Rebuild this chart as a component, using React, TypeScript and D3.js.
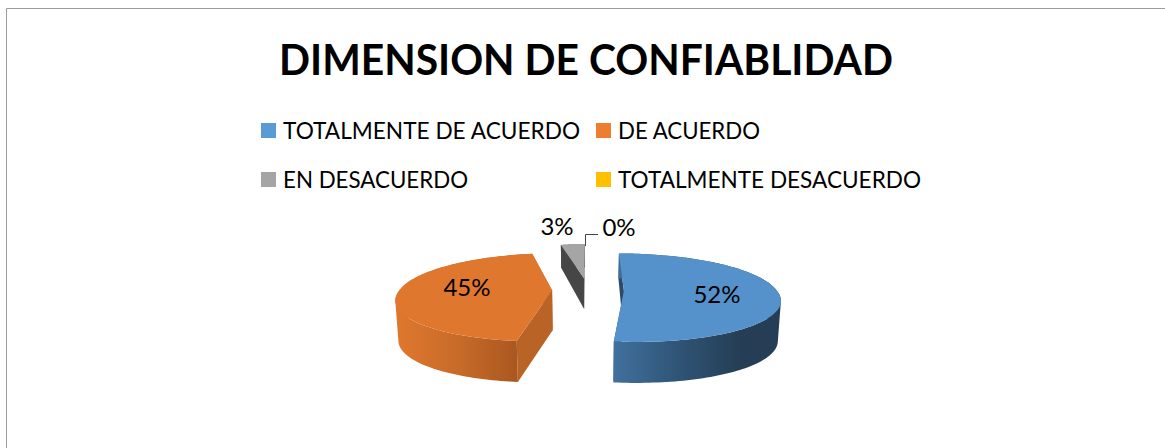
import React from "react";
import * as d3 from "d3";

const categories = ["TOTALMENTE DE ACUERDO", "DE ACUERDO", "EN DESACUERDO", "TOTALMENTE DESACUERDO"];
const values = [52, 45, 3, 0];
const legendColors = ["#5b9bd5", "#ed7d31", "#a5a5a5", "#ffc000"];
const topColors = ["#5592cb", "#e0772e", "#a5a5a5", "#ffc000"];
const faceColors = ["#2b4a68", "#b96426", "#464646", "#b08600"];
const legendWidths = [297, 142, 185, 303];
const title = "DIMENSION DE CONFIABLIDAD";

const W = 1165, H = 448;
const cx = 588, cy = 290, R = 152.5, Ry = 42.9, persp = 0.159;
const explode = [0.235, 0.235, 0.28, 0.235];
const FONT = "Lato, Carlito, Calibri, sans-serif";

const depth = d3.scaleLinear().domain([-1, 0, 0.23, 1.23]).range([41, 40, 31, 23]).clamp(true);

const slices = d3.pie<number>().sort(null).value((d) => d)(values);

type P = { x: number; y: number; z: number };

function project(a: number, mid: number, r: number, e: number): P {
  const ex = e * Math.sin(mid), ez = e * Math.cos(mid);
  const Z = ez + r * Math.cos(a);
  const flare = 1 + 0.14 * Math.max(0, -Z);
  const X = ex * flare + r * Math.sin(a);
  const s = 1 / (1 + persp * Z);
  return { x: cx + R * s * X, y: cy - Ry * s * Z, z: Z };
}
const lower = (p: P): P => ({
  x: cx + (p.x - cx) * 0.984,
  y: p.y + depth(p.z),
  z: p.z,
});
const line = d3.line<{ x: number; y: number }>().x((d) => d.x).y((d) => d.y);

// Swept side wall: every quad is wound the same way so the non-zero fill gives their union.
function sweep(up: P[], low: P[]) {
  return d3
    .range(up.length - 1)
    .map((k) => {
      const q: [number, number][] = [up[k], up[k + 1], low[k + 1], low[k]].map((p) => [p.x, p.y]);
      if (d3.polygonArea(q) < 0) q.reverse();
      return "M" + q.map((p) => p.join(",")).join("L") + "Z";
    })
    .join("");
}

function SliceShape({ i }: { i: number }) {
  const sl = slices[i];
  if (sl.value === 0) return null;
  const mid = (sl.startAngle + sl.endAngle) / 2;
  const e = explode[i];
  const n = Math.max(4, Math.round((sl.endAngle - sl.startAngle) * 40));
  const angles = d3.range(n + 1).map((k) => sl.startAngle + ((sl.endAngle - sl.startAngle) * k) / n);
  const arc = angles.map((a) => project(a, mid, 1, e));
  const center = project(0, mid, 0, e);
  const arcLow = arc.map(lower);
  const centerLow = lower(center);
  const faceA = [arc[0], center, centerLow, arcLow[0]];
  const faceB = [arc[n], center, centerLow, arcLow[n]];
  const top = [center, ...arc];
  return (
    <g>
      <path d={line(faceA)! + "Z"} fill={faceColors[i]} />
      <path d={line(faceB)! + "Z"} fill={faceColors[i]} />
      <path d={sweep(arc, arcLow)} fill={i < 2 ? `url(#rim${i})` : faceColors[i]} />
      <path d={line(top)! + "Z"} fill={topColors[i]} />
    </g>
  );
}

const legendX = [261, 596];
const legendY = [123, 172];
const labelPos = [
  { x: 717, y: 303 },
  { x: 467, y: 296 },
  { x: 557, y: 235 },
  { x: 619, y: 236 },
];

export default function App() {
  return (
    <svg width={W} height={H} style={{ position: "absolute", left: 0, top: 0, background: "#fff" }} fontFamily={FONT}>
      <defs>
        <linearGradient id="rim0" gradientUnits="userSpaceOnUse" x1="612" x2="740" y1="0" y2="0">
          <stop offset="0" stopColor="#41719f" />
          <stop offset="0.5" stopColor="#305577" />
          <stop offset="1" stopColor="#253e55" />
        </linearGradient>
        <linearGradient id="rim1" gradientUnits="userSpaceOnUse" x1="400" x2="518" y1="0" y2="0">
          <stop offset="0" stopColor="#de772e" />
          <stop offset="0.5" stopColor="#c76b29" />
          <stop offset="1" stopColor="#a95720" />
        </linearGradient>
      </defs>
      <path d={`M6.5 ${H}V8.5H${W}`} fill="none" stroke="#9c9c9c" strokeWidth={1} />
      <text x={586} y={75} textAnchor="middle" fontSize={42} fontWeight={700} fill="#000" textLength={614} lengthAdjust="spacingAndGlyphs">{title}</text>
      {categories.map((c, i) => {
        const col = i % 2, row = Math.floor(i / 2);
        return (
          <g key={c}>
            <rect x={legendX[col]} y={legendY[row]} width={15} height={15} fill={legendColors[i]} />
            <text x={legendX[col] + 22} y={legendY[row] + 16} fontSize={24} fill="#000" textLength={legendWidths[i]} lengthAdjust="spacingAndGlyphs">{c}</text>
          </g>
        );
      })}
      <SliceShape i={2} />
      <SliceShape i={1} />
      <SliceShape i={0} />
      <path d="M585.5 246V234.5H598" fill="none" stroke="#444" strokeWidth={1} />
      {values.map((v, i) => (
        <text key={i} x={labelPos[i].x} y={labelPos[i].y} textAnchor="middle" fontSize={24} fill="#000">{d3.format("d")(v)}%</text>
      ))}
    </svg>
  );
}
